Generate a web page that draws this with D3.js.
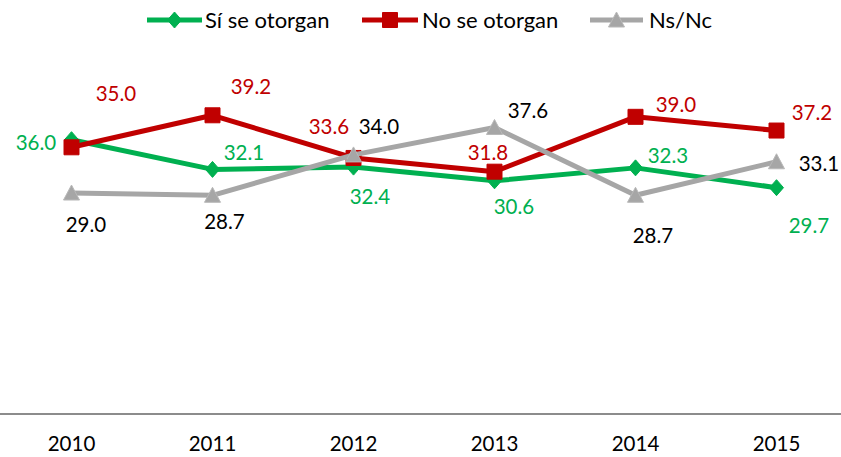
<!DOCTYPE html>
<html><head><meta charset="utf-8">
<script src="https://cdn.jsdelivr.net/npm/d3@7"></script>
<style>body{margin:0;background:#fff}svg{display:block}text{font-family:Lato,"Noto Sans",sans-serif}</style>
</head><body>
<svg id="c" width="841" height="457"></svg>
<script>
const years = ["2010","2011","2012","2013","2014","2015"];
const siSeOtorgan = [36.0, 32.1, 32.4, 30.6, 32.3, 29.7];
const noSeOtorgan = [35.0, 39.2, 33.6, 31.8, 39.0, 37.2];
const nsNc = [29.0, 28.7, 34.0, 37.6, 28.7, 33.1];
const seriesNames = ["Sí se otorgan", "No se otorgan", "Ns/Nc"];

// layout (label offsets from points, in px)
const labelOffsets = [
  [[-35.5,2],[31.5,-17],[16.5,29],[19.5,25],[32.5,-13],[32.5,37]],
  [[44.5,-54],[38.5,-29],[-24.5,-32],[-6.5,-20],[40.5,-13],[35.5,-18.5]],
  [[14.5,31],[12,26],[25.5,-29],[33.5,-17.5],[17.5,40],[42.5,1]]
];
const styles = [
  {color:"#00B050", label:"#00B050", marker:"diamond"},
  {color:"#C00000", label:"#C00000", marker:"square"},
  {color:"#A6A6A6", label:"#000000", marker:"triangle"}
];
const legendPos = [{x1:147,x2:202,tx:205},{x1:362,x2:418,tx:422},{x1:590,x2:643,tx:649}];

const svg = d3.select("#c");
const x = d3.scaleBand().domain(years).range([1, 847]).padding(0);
const y = d3.scaleLinear().domain([0, 50]).range([414, 33]);
const cx = d => x(d) + x.bandwidth()/2;

// axis
const ax = svg.append("g").attr("transform","translate(0,414)")
  .call(d3.axisBottom(x).tickSize(0).tickPadding(0));
ax.select(".domain").remove();
svg.append("line").attr("x1",0).attr("x2",841).attr("y1",414).attr("y2",414)
  .attr("stroke","#8C8C8C").attr("stroke-width",2);
ax.selectAll("text").attr("font-family","Lato").attr("font-size",20.5).attr("fill","#000")
  .attr("dy",null).attr("y",37);

function markerPath(type){
  if(type==="diamond") return "M0,-8L7,0L0,8L-7,0Z";
  if(type==="square") return "M-7.5,-7.5H7.5V7.5H-7.5Z";
  return "M0,-8L8,7H-8Z";
}

const data = [siSeOtorgan, noSeOtorgan, nsNc];
const line = d3.line().x((d,i)=>cx(years[i])).y(d=>y(d));

data.forEach((vals, s) => {
  const st = styles[s];
  const g = svg.append("g");
  g.append("path").datum(vals).attr("d", line).attr("fill","none")
    .attr("stroke", st.color).attr("stroke-width",5).attr("stroke-linejoin","round");
  g.selectAll("path.m").data(vals).join("path").attr("class","m")
    .attr("d", markerPath(st.marker))
    .attr("transform",(d,i)=>`translate(${cx(years[i])},${y(d)})`)
    .attr("fill", st.color)
    .attr("stroke", st.marker==="triangle" ? "#B8B8B8" : st.color).attr("stroke-width",1);
});
data.forEach((vals, s) => {
  const st = styles[s];
  svg.append("g").selectAll("text").data(vals).join("text")
    .attr("x",(d,i)=>cx(years[i]) + labelOffsets[s][i][0])
    .attr("y",(d,i)=>y(d) + labelOffsets[s][i][1])
    .attr("text-anchor","middle").attr("dominant-baseline","central")
    .attr("font-size",20.5).attr("fill", st.label)
    .text(d=>d.toFixed(1));
});

// legend
const lg = svg.append("g");
seriesNames.forEach((name, s) => {
  const p = legendPos[s], st = styles[s];
  lg.append("line").attr("x1",p.x1).attr("x2",p.x2).attr("y1",20).attr("y2",20)
    .attr("stroke",st.color).attr("stroke-width",5);
  lg.append("path").attr("d",markerPath(st.marker))
    .attr("transform",`translate(${(p.x1+p.x2)/2},20)`)
    .attr("fill",st.color).attr("stroke", st.marker==="triangle" ? "#B8B8B8" : st.color);
  lg.append("text").attr("x",p.tx).attr("y",27.5).attr("font-size",22).attr("fill","#000").text(name);
});
</script>
</body></html>
